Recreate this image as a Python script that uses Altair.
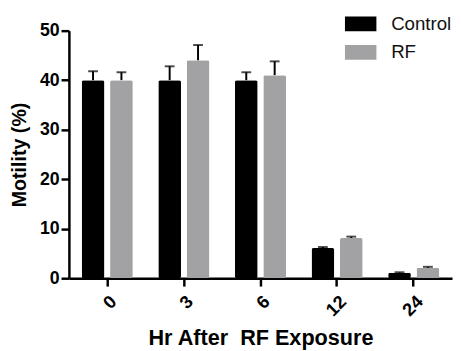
import altair as alt
import pandas as pd

hours = ["0", "3", "6", "12", "24"]
groups = ["Control", "RF"]
control = [40.0, 40.0, 40.0, 6.1, 1.1]
control_err = [1.8, 2.8, 1.6, 0.2, 0.1]
rf = [40.0, 44.0, 41.0, 8.1, 2.1]
rf_err = [1.6, 3.1, 2.8, 0.3, 0.2]
colors = ["#000000", "#a2a2a4"]

rows = []
for i, h in enumerate(hours):
    rows.append({"hr": h, "group": "Control", "v": control[i], "top": control[i] + control_err[i]})
    rows.append({"hr": h, "group": "RF", "v": rf[i], "top": rf[i] + rf_err[i]})
df = pd.DataFrame(rows)

FONT = "Liberation Sans"

x = alt.X("hr:N", sort=hours,
          scale=alt.Scale(paddingInner=0.333, paddingOuter=0.1667),
          axis=alt.Axis(title="Hr After\u00a0 RF Exposure", labelAngle=-45,
                        labelFont=FONT, labelFontSize=18.5, labelFontWeight="bold",
                        labelColor="#000", titleFont=FONT, titleFontSize=22,
                        titleFontWeight="bold", titleColor="#000", titlePadding=9,
                        domainColor="#000", domainWidth=2.5, tickColor="#000",
                        tickWidth=2.5, tickSize=8, labelPadding=6))
xo = alt.XOffset("group:N", sort=groups,
                 scale=alt.Scale(paddingInner=0.2, paddingOuter=0))
y = alt.Y("v:Q", scale=alt.Scale(domain=[0, 50]),
          axis=alt.Axis(title="Motility (%)", values=[0, 10, 20, 30, 40, 50], grid=False,
                        labelFont=FONT, labelFontSize=18, labelFontWeight="bold",
                        labelColor="#000", titleFont=FONT, titleFontSize=20,
                        titleFontWeight="bold", titleColor="#000", titlePadding=10,
                        domainColor="#000", domainWidth=2.5, tickColor="#000",
                        tickWidth=2.5, tickSize=8, labelPadding=2))

bars = alt.Chart(df).mark_bar(cornerRadius=2).encode(
    x=x, xOffset=xo, y=y,
    color=alt.Color("group:N", sort=groups,
                    scale=alt.Scale(domain=groups, range=colors),
                    legend=alt.Legend(title=None, orient="none", legendX=281, legendY=-23,
                                      symbolType="M-1,-0.47L1,-0.47L1,0.47L-1,0.47Z",
                                      symbolSize=1024, symbolStrokeWidth=0,
                                      labelFont=FONT, labelFontSize=19, labelColor="#111",
                                      labelOffset=15, rowPadding=3)),
)

rules = alt.Chart(df).mark_rule(color="#000", strokeWidth=2).encode(
    x=x, xOffset=xo, y="v:Q", y2="top:Q")
caps = alt.Chart(df).mark_tick(color="#000", thickness=2, size=10).encode(
    x=x, xOffset=xo, y="top:Q")

chart = alt.layer(rules, bars, caps).properties(
    width=390, height=252,
    autosize=alt.AutoSizeParams(type="none"),
    padding={"left": 62, "top": 20, "right": 2, "bottom": 70},
).configure_view(stroke=None)

chart.save("out.html", embed_options={"renderer": "svg", "actions": False})
